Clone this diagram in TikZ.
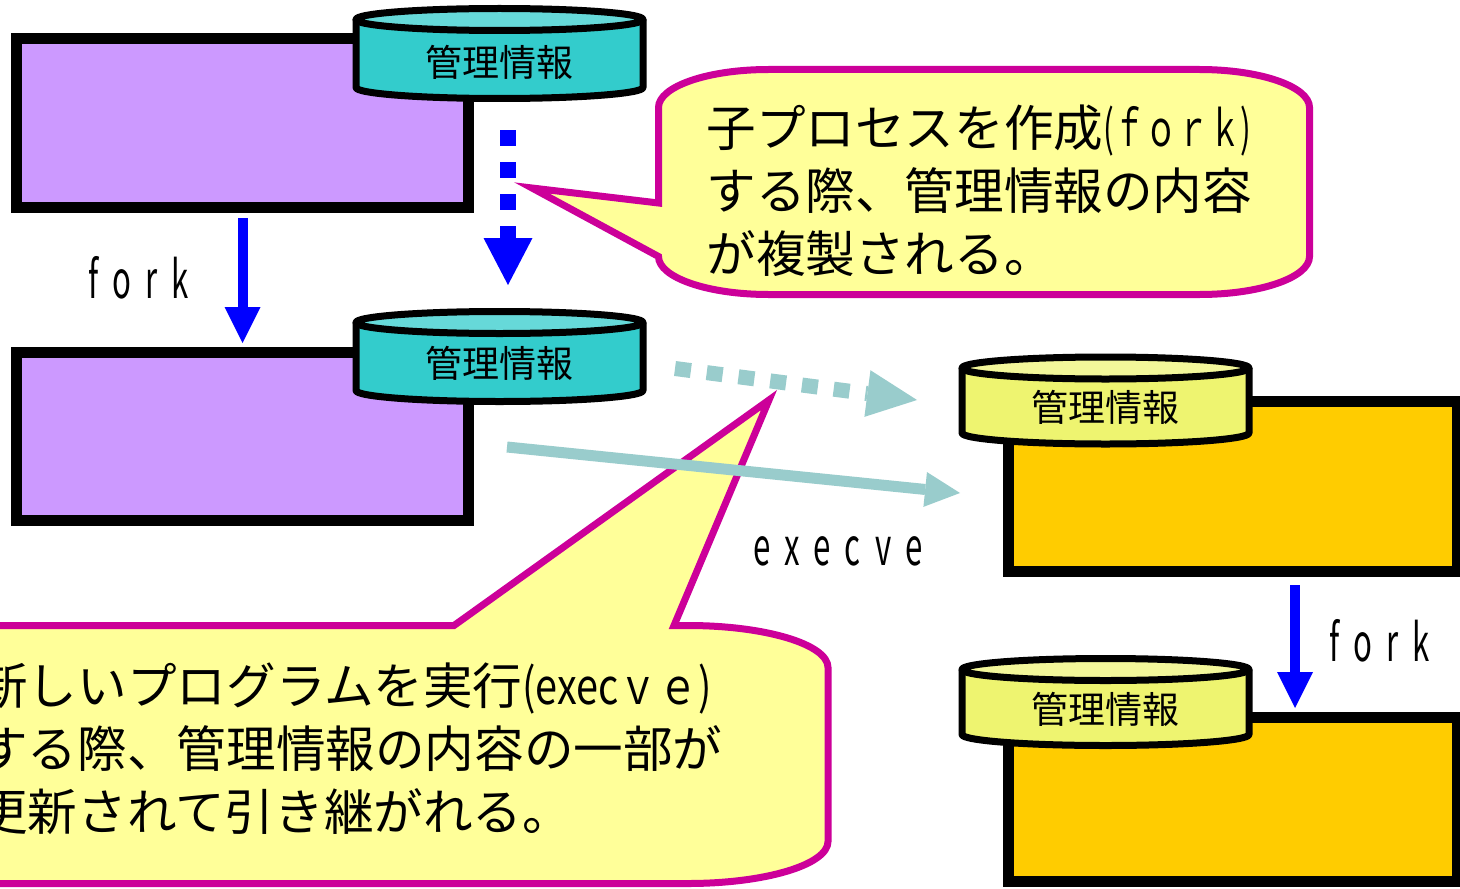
\documentclass[tikz,border=0pt]{standalone}
\usepackage{fontspec}
\usetikzlibrary{arrows.meta}
\newfontfamily\jp{Noto Sans CJK JP}
\newfontfamily\jpc[FakeStretch=0.8]{Noto Sans CJK JP}
\newfontfamily\jpf[FakeStretch=0.64]{Noto Sans CJK JP}
\newfontfamily\lab[FakeStretch=0.6,LetterSpace=27]{Noto Sans CJK JP}
\definecolor{purp}{HTML}{CC99FF}
\definecolor{orng}{HTML}{FFCC00}
\definecolor{tealbody}{HTML}{33CCCC}
\definecolor{tealtop}{HTML}{66D9D9}
\definecolor{ylwbody}{HTML}{EEF470}
\definecolor{ylwtop}{HTML}{F3F79A}
\definecolor{callfill}{HTML}{FFFF99}
\definecolor{callline}{HTML}{CC0099}
\definecolor{arrteal}{HTML}{99CCCC}
\definecolor{arrblue}{HTML}{0000FF}
\tikzset{
  procbox/.style={draw=black, line width=5.5pt, inner sep=0pt, line join=miter},
  drumline/.style={draw=black, line width=3.5pt, line join=round},
  drumtext/.style={font=\jp\fontsize{18.5pt}{22pt}\selectfont, inner sep=0pt},
  callshape/.style={draw=callline, fill=callfill, line width=3.5pt, line join=miter},
  calltext/.style={font=\jp\fontsize{24.8pt}{31.5pt}\selectfont, align=left, inner sep=0pt},
  lbl/.style={font=\lab\fontsize{26pt}{30pt}\selectfont, inner sep=0pt},
  bluearrow/.style={draw=arrblue, line width=5pt, -{Triangle[width=18pt,length=18pt,line width=0pt]}},
  bluedots/.style={draw=arrblue, line width=8pt, dash pattern=on 8pt off 8pt, -{Triangle[width=24.5pt,length=23.5pt,line width=0pt]}},
  tealdots/.style={draw=arrteal, line width=7.5pt, dash pattern=on 8pt off 8pt, -{Triangle[width=23.5pt,length=25pt,line width=0pt]}},
  tealarrow/.style={draw=arrteal, line width=5.5pt, -{Triangle[width=17.5pt,length=17.5pt,line width=0pt]}}
}
\newcommand\drum[7]{%
  \fill[#5] ({#2-143.5},#3) -- ({#2-143.5},#4) arc[start angle=180,end angle=360,x radius=71.75pt,y radius=5.5pt] -- ({#2+143.5},#3) -- cycle;
  \draw[drumline] ({#2-143.5},#3) -- ({#2-143.5},#4) arc[start angle=180,end angle=360,x radius=71.75pt,y radius=5.5pt] -- ({#2+143.5},#3);
  \draw[drumline, fill=#6] (#2,#3) ellipse[x radius=71.75pt, y radius=5.5pt];
  \node[drumtext] (#1) at (#2,#7) {管理情報};
}
\begin{document}
\begin{tikzpicture}[x=0.5pt, y=-0.5pt]
\useasboundingbox (0,0) rectangle (1460,888);
\clip (0,0) rectangle (1460,888);
\fill[white] (0,0) rectangle (1460,888);

% process boxes
\node[procbox, fill=purp, minimum width=226pt, minimum height=84.5pt] (p1) at (242.5,123) {};
\node[procbox, fill=purp, minimum width=226pt, minimum height=84pt] (p2) at (242.5,436.5) {};
\node[procbox, fill=orng, minimum width=224.25pt, minimum height=85pt] (p3) at (1232.75,486.5) {};
\node[procbox, fill=orng, minimum width=224.25pt, minimum height=82pt] (p4) at (1232.75,799.5) {};

% management info drums
\drum{m1}{499.5}{19.5}{87.5}{tealbody}{tealtop}{62}
\drum{m2}{499.5}{322.5}{390.5}{tealbody}{tealtop}{363.5}
\drum{m3}{1105.5}{368}{433}{ylwbody}{ylwtop}{407}
\drum{m4}{1105.5}{669.5}{734.5}{ylwbody}{ylwtop}{709}

% callout 1
\path[callshape] (658.5,203) -- (658.5,107.5)
  arc[start angle=180,end angle=90,x radius=55pt,y radius=19pt] -- (1199.5,69.5)
  arc[start angle=90,end angle=0,x radius=55pt,y radius=19pt] -- (1309.5,256.5)
  arc[start angle=0,end angle=-90,x radius=55pt,y radius=19pt] -- (768.5,294.5)
  arc[start angle=270,end angle=180,x radius=55pt,y radius=19pt] -- (532,188) -- cycle;
\node[calltext, anchor=west] (c1t) at (706,191) {子プロセスを作成{\jpf(ｆｏｒｋ)}\\する際、管理情報の内容\\が複製される。};

% callout 2
\path[callshape] (454,625.5) -- (769,400) -- (674,625.5) -- (688,625.5)
  arc[start angle=90,end angle=0,x radius=70pt,y radius=21pt] -- (828,841.5)
  arc[start angle=0,end angle=-90,x radius=70pt,y radius=21pt] -- (-60,883.5) -- (-60,625.5) -- cycle;
\node[calltext, anchor=west] (c2t) at (-22,749) {新しいプログラムを実行{\jpc(execｖｅ)}\\する際、管理情報の内容の一部が\\更新されて引き継がれる。};

% connectors
\coordinate (a1s) at (242.5,218);  \coordinate (a1e) at (242.5,343);
\coordinate (d1s) at (508,130);    \coordinate (d1e) at (508,285);
\coordinate (t1s) at (675,368.5);  \coordinate (t1e) at (917,400);
\coordinate (t2s) at (507,447);    \coordinate (t2e) at (960,493);
\coordinate (a2s) at (1295,585);   \coordinate (a2e) at (1295,708);
\draw[bluearrow] (a1s) -- (a1e);
\draw[bluedots] (d1s) -- (d1e);
\draw[tealdots] (t1s) -- (t1e);
\draw[tealarrow] (t2s) -- (t2e);
\draw[bluearrow] (a2s) -- (a2e);

% labels
\node[lbl] (fork1) at (139,278) {fork};
\node[lbl] (exe) at (838,551) {execve};
\node[lbl] (fork2) at (1380,641) {fork};
\end{tikzpicture}
\end{document}
